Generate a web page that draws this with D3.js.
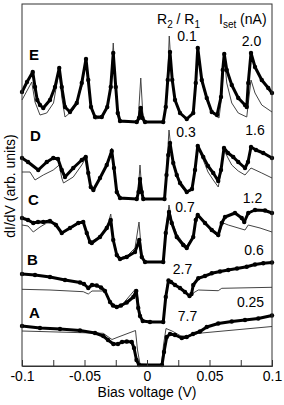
<!DOCTYPE html>
<html>
<head>
<meta charset="utf-8">
<script src="https://cdn.jsdelivr.net/npm/d3@7"></script>
<style>
  body { margin: 0; background: #fff; }
  text { font-family: "Liberation Sans", Arial, sans-serif; fill: #000; }
</style>
</head>
<body>
<script>
// curve names (bottom to top), R2/R1 ratio and set-point current
var curveNames = ["A", "B", "C", "D", "E"];
var ratios = ["7.7", "2.7", "0.7", "0.3", "0.1"];
var isetValues = ["0.25", "0.6", "1.2", "1.6", "2.0"];
var xTicks = [-0.1, -0.075, -0.05, -0.025, 0, 0.025, 0.05, 0.075, 0.1];

// measured dI/dV (bias in V, arb. units incl. offset)
var expE = [[-0.1,274],[-0.096,284],[-0.0914,294],[-0.0896,279],[-0.0878,266],[-0.0856,261],[-0.083,258],[-0.0776,266],[-0.0736,279],[-0.0702,298],[-0.0682,279],[-0.0656,259],[-0.0616,254],[-0.0562,263],[-0.0522,283],[-0.0488,307],[-0.047,286],[-0.0448,259],[-0.0416,249],[-0.0362,249],[-0.0318,259],[-0.029,279],[-0.027,313],[-0.025,279],[-0.0234,253],[-0.0216,245],[-0.0082,244],[-0.0064,248],[-0.005,258],[-0.0036,248],[-0.0016,244],[0.013,244],[0.015,259],[0.0166,286],[0.0184,314],[0.0202,286],[0.0224,266],[0.0264,253],[0.0318,247],[0.037,253],[0.039,283],[0.0406,318],[0.0438,286],[0.0478,268],[0.0518,254],[0.056,251],[0.0592,269],[0.0606,296],[0.0618,312],[0.0638,296],[0.0678,281],[0.073,268],[0.0784,261],[0.0798,259],[0.081,283],[0.0832,313],[0.0864,299],[0.0918,286],[0.097,278],[0.1,273]];
var expD = [[-0.1,208],[-0.0952,204],[-0.087,196],[-0.0802,204],[-0.075,208],[-0.0712,207],[-0.0682,196],[-0.0656,189],[-0.059,198],[-0.0522,206],[-0.049,209],[-0.047,193],[-0.045,179],[-0.0429,176],[-0.0376,188],[-0.0322,201],[-0.0282,215],[-0.0264,198],[-0.0242,174],[-0.0216,168],[-0.0082,167],[-0.0068,174],[-0.0056,187],[-0.0042,174],[-0.003,167],[0.014,167],[0.0156,191],[0.017,211],[0.0184,223],[0.021,203],[0.0238,191],[0.0264,183],[0.0318,174],[0.036,177],[0.0384,196],[0.0406,220],[0.045,209],[0.0488,200],[0.053,193],[0.057,185],[0.0592,196],[0.0616,218],[0.0648,213],[0.069,209],[0.073,204],[0.0784,198],[0.0808,204],[0.0832,219],[0.0872,216],[0.093,213],[0.1,208]];
var expC = [[-0.1,148],[-0.0952,146],[-0.091,143],[-0.0872,144],[-0.083,144],[-0.0776,145],[-0.0728,141],[-0.0682,133],[-0.0616,138],[-0.055,143],[-0.051,144],[-0.0482,133],[-0.0456,124],[-0.0442,123],[-0.0376,129],[-0.0322,138],[-0.029,146],[-0.027,126],[-0.0242,111],[-0.0216,107],[-0.0162,109],[-0.0096,114],[-0.0062,126],[-0.0042,109],[-0.0016,104],[0.013,104],[0.015,133],[0.0176,154],[0.0198,143],[0.0238,129],[0.029,121],[0.0318,118],[0.037,129],[0.039,146],[0.0406,151],[0.0464,143],[0.0518,136],[0.057,131],[0.0598,143],[0.0624,149],[0.0704,153],[0.0758,148],[0.0778,144],[0.081,153],[0.0864,156],[0.0944,155.5],[0.1,153]];
var expB = [[-0.1,92],[-0.0896,91],[-0.0776,89],[-0.0656,86],[-0.0536,83.5],[-0.0504,82],[-0.047,78],[-0.044,81],[-0.0402,80.5],[-0.0368,78.5],[-0.0336,75],[-0.0296,64],[-0.0272,60.5],[-0.0242,59],[-0.0208,60.5],[-0.0162,63.5],[-0.0109,69],[-0.0086,75],[-0.007,58],[-0.0056,50],[-0.0034,45],[0.0024,44],[0.013,44],[0.015,69],[0.0172,85.5],[0.0192,84],[0.0224,81],[0.0264,78],[0.0304,74],[0.034,70],[0.0356,72],[0.037,81],[0.041,87.7],[0.0464,90],[0.0518,92.7],[0.0584,94.5],[0.065,96],[0.072,97.5],[0.0798,99.3],[0.0864,101.5],[0.093,102.7],[0.1,103.5]];
var expA = [[-0.1,40],[-0.0856,38],[-0.0696,37],[-0.0536,35.5],[-0.0416,33],[-0.035,30],[-0.0312,26],[-0.0269,22],[-0.0232,22],[-0.02,24],[-0.0162,24.5],[-0.0122,24],[-0.0104,18],[-0.0084,6],[-0.0064,1],[0.012,1],[0.0136,14],[0.0158,29],[0.0184,32],[0.0224,31],[0.0278,28],[0.0318,29],[0.0368,32],[0.0424,34.5],[0.0478,39],[0.057,42.5],[0.0678,44.5],[0.0784,46],[0.089,47.5],[0.1,50.5]];

// calculated dI/dV (thin lines)
var fitE = [[-0.1,266],[-0.0922,284],[-0.0896,264],[-0.0856,251],[-0.0802,253],[-0.0748,263],[-0.0702,296],[-0.0682,269],[-0.0656,249],[-0.059,256],[-0.0522,279],[-0.0488,306],[-0.047,284],[-0.0448,258],[-0.0416,247],[-0.0362,248],[-0.0318,258],[-0.029,278],[-0.027,323],[-0.025,278],[-0.0234,252],[-0.0216,244],[-0.0072,244],[-0.005,288],[-0.003,244],[0.0132,244],[0.015,260],[0.0166,291],[0.0178,330],[0.02,286],[0.0224,266],[0.0264,252],[0.0318,246],[0.037,252],[0.039,283],[0.0406,318],[0.0438,284],[0.0478,266],[0.0518,253],[0.0576,248],[0.0596,268],[0.0618,309],[0.0638,283],[0.0678,263],[0.073,253],[0.0798,249],[0.0816,269],[0.0832,286],[0.0864,273],[0.0918,261],[0.1,254]];
var fitD = [[-0.1,194],[-0.0936,194],[-0.0896,186],[-0.083,191],[-0.075,196],[-0.0702,201],[-0.0682,188],[-0.0668,183],[-0.059,189],[-0.0522,201],[-0.049,208],[-0.047,192],[-0.045,179],[-0.0429,175],[-0.0376,187],[-0.0322,201],[-0.0282,218],[-0.0264,198],[-0.0242,174],[-0.0216,167],[-0.0075,167],[-0.0056,201],[-0.0036,167],[0.014,167],[0.0156,196],[0.0176,236],[0.02,208],[0.0238,190],[0.0264,181],[0.0318,173],[0.036,176],[0.0384,196],[0.0406,219],[0.045,206],[0.0488,194],[0.053,186],[0.057,179],[0.0592,194],[0.0616,216],[0.0648,208],[0.0678,201],[0.073,195],[0.0784,191],[0.0832,198],[0.0918,193],[0.1,188]];
var fitC = [[-0.1,141],[-0.0952,140],[-0.091,134],[-0.0856,139],[-0.0802,143],[-0.0728,143],[-0.0682,133],[-0.0616,137],[-0.055,142],[-0.051,145],[-0.0482,133],[-0.0456,124],[-0.0376,129],[-0.0322,138],[-0.029,152],[-0.027,128],[-0.0242,113],[-0.0216,108],[-0.0152,111],[-0.0096,118],[-0.0064,144],[-0.0042,111],[-0.0016,104],[0.013,104],[0.015,136],[0.0176,161],[0.0198,145],[0.0238,132],[0.029,123],[0.0318,120],[0.037,130],[0.039,146],[0.0406,151],[0.0464,142],[0.0518,135],[0.057,129],[0.0598,140],[0.061,143],[0.065,141],[0.0784,136],[0.081,141],[0.0904,138],[0.1,134]];
var fitB = [[-0.1,76.7],[-0.0776,76],[-0.051,74.3],[-0.047,72],[-0.044,75],[-0.0336,75],[-0.0296,64.5],[-0.0242,58.7],[-0.0208,60],[-0.0092,77],[-0.0076,70],[-0.0056,52],[-0.0034,45],[0.013,44],[0.015,71],[0.0168,86.5],[0.0192,84],[0.0264,77.5],[0.0312,73],[0.0348,69],[0.037,73],[0.041,76],[0.057,75.3],[0.0598,77.7],[0.1,78.7]];
var fitA = [[-0.1,35],[-0.035,32.7],[-0.028,26.5],[-0.024,28.5],[-0.0092,35.5],[-0.0076,16],[-0.0056,2],[0.0116,1],[0.0132,21],[0.0152,37.5],[0.02,35],[0.0272,30],[0.0344,30],[0.041,32.7],[0.0464,33.3],[0.1,39.5]];

var expSeries = [expA, expB, expC, expD, expE];
var fitSeries = [fitA, fitB, fitC, fitD, fitE];

var width = 284, height = 405;
var plotL = 22, plotR = 272, plotT = 4, plotB = 366;

var svg = d3.select("body")
    .append("svg")
    .attr("width", width)
    .attr("height", height);

var x = d3.scaleLinear().domain([-0.1, 0.1]).range([plotL, plotR]);
var y = d3.scaleLinear().domain([0, 362]).range([plotB, plotT]);

var line = d3.line()
    .x(function (d) { return x(d[0]); })
    .y(function (d) { return y(d[1]); });

// thin lines underneath
svg.selectAll(".fit")
    .data(fitSeries)
    .enter()
    .append("path")
    .attr("class", "fit")
    .attr("d", line)
    .attr("fill", "none")
    .attr("stroke", "#444")
    .attr("stroke-width", 1);

// measured curves with dots
svg.selectAll(".exp")
    .data(expSeries)
    .enter()
    .append("path")
    .attr("class", "exp")
    .attr("d", line)
    .attr("fill", "none")
    .attr("stroke", "#000")
    .attr("stroke-width", 3)
    .attr("stroke-linejoin", "round");

expSeries.forEach(function (s) {
    svg.append("g")
        .selectAll("circle")
        .data(s)
        .enter()
        .append("circle")
        .attr("cx", function (d) { return x(d[0]); })
        .attr("cy", function (d) { return y(d[1]); })
        .attr("r", 2.2)
        .attr("fill", "#000");
});

// frame
svg.append("rect")
    .attr("x", plotL)
    .attr("y", plotT)
    .attr("width", plotR - plotL)
    .attr("height", plotB - plotT)
    .attr("fill", "none")
    .attr("stroke", "#333")
    .attr("stroke-width", 1);

var xAxis = d3.axisBottom(x)
    .tickValues(xTicks)
    .tickSize(-6)
    .tickPadding(5)
    .tickFormat(function (d) {
        var k = d * 20;
        return Math.abs(k - Math.round(k)) < 1e-9 ? String(+d.toFixed(2)) : "";
    });

var gx = svg.append("g")
    .attr("transform", "translate(0," + plotB + ")")
    .call(xAxis);
gx.select(".domain").attr("stroke", "#333");
gx.selectAll(".tick line").attr("stroke", "#333");
gx.selectAll(".tick text")
    .style("font-size", "14px")
    .style("font-family", "Liberation Sans, Arial, sans-serif")
    .attr("fill", "#000");

svg.append("text")
    .attr("x", (plotL + plotR) / 2)
    .attr("y", 397)
    .attr("text-anchor", "middle")
    .style("font-size", "14px")
    .text("Bias voltage (V)");

svg.append("text")
    .attr("transform", "translate(15,186) rotate(-90)")
    .attr("text-anchor", "middle")
    .style("font-size", "14px")
    .text("dI/dV (arb. units)");

// headers
var hdr1 = svg.append("text").attr("x", 157).attr("y", 24).style("font-size", "14px");
hdr1.append("tspan").text("R");
hdr1.append("tspan").attr("dy", 4).style("font-size", "10px").text("2");
hdr1.append("tspan").attr("dy", -4).text(" / R");
hdr1.append("tspan").attr("dy", 4).style("font-size", "10px").text("1");

var hdr2 = svg.append("text").attr("x", 219).attr("y", 24).style("font-size", "14px");
hdr2.append("tspan").text("I");
hdr2.append("tspan").attr("dy", 4).style("font-size", "10px").text("set");
hdr2.append("tspan").attr("dy", -4).text(" (nA)");

// per-curve labels, bottom to top
var namePos = [[29, 318], [27, 265], [28, 205], [30, 141], [29, 60]];
var ratioPos = [[187.5, 321], [182.5, 274], [185, 212], [186, 137], [187, 41]];
var isetPos = [[250.5, 307], [254, 255], [252.5, 203], [255, 135], [251.5, 46]];

curveNames.forEach(function (n, i) {
    svg.append("text")
        .attr("x", namePos[i][0]).attr("y", namePos[i][1])
        .style("font-size", "15px").style("font-weight", "bold")
        .text(n);
    svg.append("text")
        .attr("x", ratioPos[i][0]).attr("y", ratioPos[i][1])
        .attr("text-anchor", "middle").style("font-size", "14px")
        .text(ratios[i]);
    svg.append("text")
        .attr("x", isetPos[i][0]).attr("y", isetPos[i][1])
        .attr("text-anchor", "middle").style("font-size", "14px")
        .text(isetValues[i]);
});
</script>
</body>
</html>
